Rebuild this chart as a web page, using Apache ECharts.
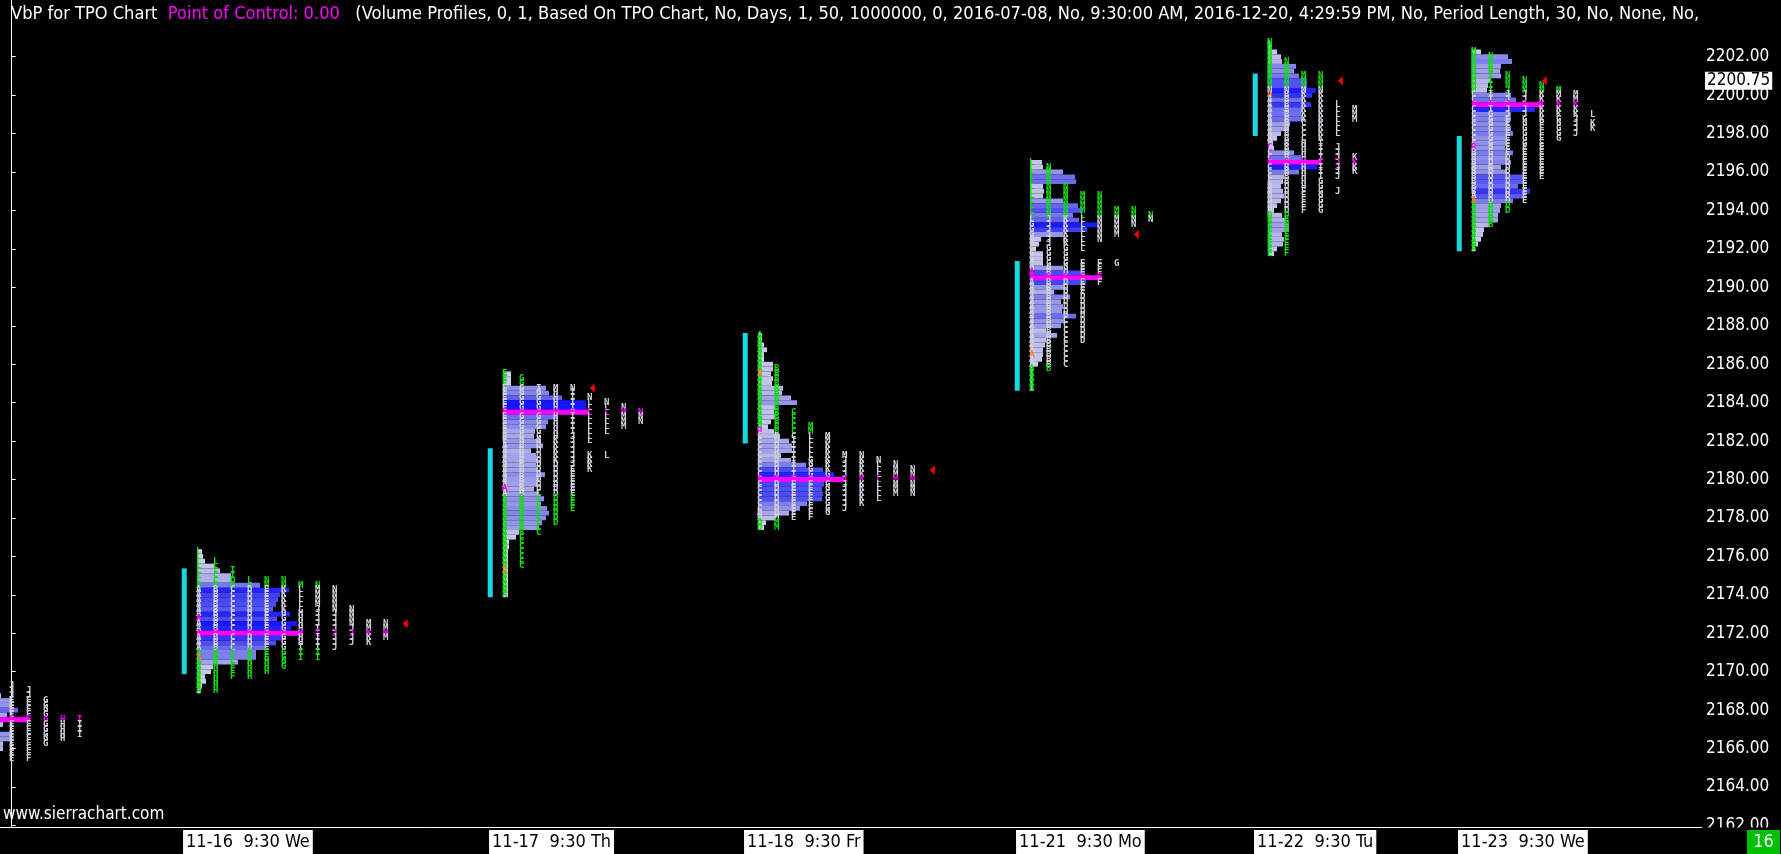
<!DOCTYPE html>
<html><head><meta charset="utf-8">
<script src="https://cdn.jsdelivr.net/npm/echarts@6/dist/echarts.min.js"></script>
<style>html,body{margin:0;padding:0;background:#000;overflow:hidden}#c{width:1781px;height:854px}</style>
</head><body><div id="c"></div>
<script>
// ---------------- DATA ----------------
const sessions      = ['11-15', '11-16', '11-17', '11-18', '11-21', '11-22', '11-23'];
const sessionLabels = ['', '11-16  9:30 We', '11-17  9:30 Th', '11-18  9:30 Fr', '11-21  9:30 Mo', '11-22  9:30 Tu', '11-23  9:30 We'];
// session start, counted in TPO columns along the time axis
const sessionColumn = [-1, 11, 29, 44, 60, 74, 86];
// price of the first (highest) volume-profile row of each session
const volTop   = [2169.5, 2176.25, 2185.5, 2187.5, 2196.5, 2202.75, 2202.25];
const pocPrice = [2167.5, 2172.0, 2183.5, 2180.0, 2190.5, 2196.5, 2199.5];
const vaLow    = [2165.25, 2171.25, 2179.25, 2178.0, 2186.0, 2194.0, 2194.5];
const vaHigh   = [2169.5, 2174.25, 2184.75, 2182.25, 2193.5, 2200.25, 2200.0];
const ibLow    = [null, 2170.0, 2174.0, 2182.0, 2184.75, 2198.0, 2192.0];
const ibHigh   = [null, 2175.25, 2181.5, 2187.5, 2191.25, 2201.0, 2197.75];
const closePrice = [null, 2172.5, 2184.75, 2180.5, 2192.75, 2200.75, 2200.75];
const openMark   = [null, ['A', 2172.75], ['A', 2179.5], ['B', 2182.5], ['A', 2190.75], ['C', 2197.25], ['B', 2197.25]];
const otherMark  = [null, ['A', 2170.75], ['A', 2175.25], ['A', 2185.5], ['A', 2186.5], ['A', 2200.0], ['A', 2194.5]];
const lastPrice = 2200.75;
const pocLabel = 'Point of Control: 0.00';
const priceTicks = [2162, 2164, 2166, 2168, 2170, 2172, 2174, 2176, 2178, 2180, 2182, 2184, 2186, 2188, 2190, 2192, 2194, 2196, 2198, 2200, 2202];

// volume per 0.25 row, from the session's top row downwards
const vol1115 = [4, 5, 6, 8, 17, 17, 25, 14, 37, 10, 6, 17, 17, 10, 10, 6, 6, 4];
const vol1116 = [5, 6, 8, 18, 23, 34, 34, 63, 92, 83, 81, 79, 76, 93, 80, 100, 94, 105, 86, 79, 68, 59, 59, 41, 16, 14, 8, 9, 5, 4];
const vol1117 = [8, 8, 8, 43, 46, 59, 83, 83, 86, 55, 45, 43, 32, 31, 38, 40, 28, 33, 34, 33, 34, 42, 36, 34, 31, 36, 41, 38, 44, 46, 43, 39, 36, 16, 13, 6, 6, 5, 5, 5, 5, 5, 5, 5, 5, 5, 5];
const vol1118 = [4, 4, 6, 9, 6, 6, 15, 15, 13, 15, 14, 25, 24, 33, 39, 17, 16, 17, 13, 10, 16, 22, 31, 34, 34, 23, 33, 48, 65, 76, 86, 66, 64, 65, 64, 49, 42, 31, 18, 8, 6];
const vol1121 = [12, 13, 33, 45, 46, 13, 14, 13, 33, 48, 53, 43, 49, 68, 57, 33, 11, 9, 6, 13, 13, 13, 33, 55, 72, 56, 34, 24, 40, 31, 33, 32, 46, 35, 31, 16, 27, 16, 15, 13, 13, 12, 8, 3, 3, 3, 3, 3];
const vol1122 = [2, 4, 9, 13, 14, 28, 26, 31, 39, 39, 48, 44, 34, 43, 34, 33, 34, 22, 21, 13, 9, 5, 6, 26, 33, 53, 49, 31, 16, 15, 13, 15, 16, 13, 9, 6, 14, 17, 21, 21, 14, 16, 15, 9, 6];
const vol1123 = [9, 36, 40, 29, 28, 29, 18, 16, 15, 39, 44, 71, 63, 39, 39, 36, 39, 41, 34, 34, 33, 41, 36, 39, 29, 34, 52, 51, 46, 58, 51, 41, 29, 28, 26, 26, 18, 12, 11, 9, 6, 3];

// TPO letter columns: [column, letter, low, high]
const tpo1115 = [[0,'A',2165.25,2169.5],[1,'J',2168.75,2169.25],[1,'E',2165.5,2168.5],[2,'J',2168.75,2169.0],[2,'F',2165.5,2168.5],
  [3,'G',2166.25,2168.5],[4,'H',2166.5,2167.5],[5,'I',2166.75,2167.5]];
const tpo1116 = [[0,'L',2174.75,2176.25],[0,'A',2169.0,2174.5],
  [1,'L',2175.25,2175.75],[1,'C',2174.75,2175.0],[1,'B',2170.5,2174.5],[1,'H',2169.0,2170.25],
  [2,'I',2175.0,2175.25],[2,'D',2174.5,2174.75],[2,'C',2170.5,2174.25],[2,'F',2169.75,2170.25],
  [3,'L',2174.5,2174.75],[3,'D',2170.75,2174.25],[3,'H',2169.75,2170.5],
  [4,'N',2174.5,2174.75],[4,'E',2170.75,2174.25],[4,'H',2170.0,2170.5],
  [5,'N',2174.5,2174.75],[5,'K',2173.25,2174.25],[5,'G',2170.25,2173.0],
  [6,'M',2174.5,2174.5],[6,'L',2173.25,2174.25],[6,'H',2171.5,2173.0],[6,'I',2170.75,2171.25],
  [7,'N',2174.5,2174.5],[7,'M',2173.5,2174.25],[7,'J',2172.5,2173.25],[7,'I',2170.75,2172.25],
  [8,'N',2173.25,2174.25],[8,'J',2171.25,2173.0],[9,'N',2172.5,2173.25],[9,'J',2171.5,2172.25],
  [10,'M',2172.25,2172.5],[10,'K',2171.5,2172.0],[11,'N',2172.5,2172.5],[11,'M',2171.75,2172.25]];
const tpo1117 = [[0,'E',2182.0,2185.5],[0,'A',2174.0,2181.75],
  [1,'G',2182.0,2185.25],[1,'B',2177.25,2181.75],[1,'C',2175.5,2177.0],
  [2,'I',2184.75,2184.75],[2,'G',2182.0,2184.5],[2,'D',2179.5,2181.75],[2,'C',2177.25,2179.25],
  [3,'M',2184.75,2184.75],[3,'H',2182.25,2184.5],[3,'K',2181.0,2182.0],[3,'D',2177.75,2180.75],
  [4,'N',2184.75,2184.75],[4,'I',2182.5,2184.5],[4,'J',2180.75,2182.25],[4,'E',2178.5,2180.5],
  [5,'N',2184.25,2184.25],[5,'L',2182.0,2184.0],[5,'K',2180.5,2181.25],
  [6,'N',2184.0,2184.0],[6,'L',2182.5,2183.75],[6,'L',2181.25,2181.25],
  [7,'N',2183.75,2183.75],[7,'M',2182.75,2183.5],[8,'N',2183.0,2183.5]];
const tpo1118 = [[0,'A',2182.75,2187.5],[0,'C',2178.5,2182.5],[0,'D',2177.5,2178.25],
  [1,'B',2182.5,2185.75],[1,'D',2178.25,2182.25],[1,'M',2177.5,2178.0],
  [2,'C',2182.25,2183.5],[2,'I',2180.25,2182.0],[2,'E',2178.0,2180.0],
  [3,'M',2182.5,2182.75],[3,'L',2181.25,2182.25],[3,'G',2180.25,2181.0],[3,'F',2178.0,2180.0],
  [4,'M',2182.0,2182.25],[4,'K',2180.5,2181.75],[4,'G',2178.25,2180.25],
  [5,'M',2181.25,2181.25],[5,'J',2178.5,2181.0],[6,'N',2181.25,2181.25],[6,'K',2178.75,2181.0],
  [7,'N',2181.0,2181.0],[7,'L',2179.0,2180.75],[8,'N',2180.75,2180.75],[8,'M',2179.25,2180.5],[9,'N',2179.25,2180.5]];
const tpo1121 = [[0,'L',2193.5,2196.5],[0,'G',2191.0,2193.25],[0,'A',2184.75,2190.75],
  [1,'N',2193.75,2196.25],[1,'J',2192.25,2193.5],[1,'G',2191.0,2192.0],[1,'B',2185.75,2190.75],
  [2,'N',2194.0,2195.25],[2,'K',2192.25,2193.75],[2,'G',2191.0,2192.0],[2,'D',2188.5,2190.75],[2,'C',2186.0,2188.25],
  [3,'M',2194.0,2194.75],[3,'L',2192.0,2193.75],[3,'E',2189.75,2191.25],[3,'D',2187.25,2189.5],
  [4,'N',2192.5,2194.75],[4,'F',2190.25,2191.25],
  [5,'M',2192.75,2194.0],[5,'G',2191.25,2191.25],[6,'N',2193.25,2194.0],[7,'N',2193.5,2193.75]];
const tpo1122 = [[0,'N',2200.25,2202.75],[0,'A',2197.75,2200.0],[0,'C',2195.5,2197.5],[0,'D',2193.75,2195.25],[0,'E',2191.75,2193.5],
  [1,'N',2200.25,2201.75],[1,'B',2195.5,2200.0],[1,'D',2193.75,2195.25],[1,'E',2192.75,2193.5],[1,'F',2191.75,2192.5],
  [2,'M',2200.25,2201.0],[2,'K',2198.75,2200.0],[2,'C',2197.75,2198.5],[2,'H',2195.25,2197.5],[2,'F',2194.0,2195.0],
  [3,'N',2200.25,2201.0],[3,'K',2197.75,2200.0],[3,'I',2195.75,2197.5],[3,'G',2194.0,2195.5],
  [4,'L',2198.0,2199.5],[4,'J',2195.75,2197.25],[4,'J',2195.0,2195.0],
  [5,'M',2198.75,2199.25],[5,'K',2196.0,2196.75]];
const tpo1123 = [[0,'M',2200.25,2202.25],[0,'C',2197.5,2200.0],[0,'B',2195.0,2197.25],[0,'A',2192.0,2194.75],
  [1,'N',2201.25,2202.0],[1,'I',2199.25,2201.0],[1,'G',2197.0,2199.0],[1,'D',2194.5,2196.75],[1,'B',2193.25,2194.25],
  [2,'N',2200.5,2201.0],[2,'J',2199.0,2200.25],[2,'E',2197.0,2198.75],[2,'D',2194.0,2196.75],
  [3,'N',2200.25,2200.75],[3,'J',2199.0,2200.0],[3,'G',2197.5,2198.75],[3,'E',2194.5,2197.25],
  [4,'N',2200.25,2200.5],[4,'K',2198.75,2200.0],[4,'F',2197.75,2198.5],[4,'E',2195.75,2197.5],
  [5,'M',2200.0,2200.25],[5,'K',2199.0,2199.75],[5,'G',2197.75,2198.75],
  [6,'M',2199.75,2200.0],[6,'K',2199.0,2199.5],[6,'J',2198.0,2198.75],[7,'L',2199.0,2199.0],[7,'K',2198.25,2198.5]];

const volumes = [vol1115, vol1116, vol1117, vol1118, vol1121, vol1122, vol1123];
const tpoCols = [tpo1115, tpo1116, tpo1117, tpo1118, tpo1121, tpo1122, tpo1123];

const headerA = 'VbP for TPO Chart';
const headerB = '(Volume Profiles, 0, 1, Based On TPO Chart, No, Days, 1, 50, 1000000, 0, 2016-07-08, No, 9:30:00 AM, 2016-12-20, 4:29:59 PM, No, Period Length, 30, No, None, No,';

// ---------------- BUILD ----------------
const FONT = '"DejaVu Sans Condensed","DejaVu Sans",sans-serif';
const ROW = 0.25, HALF = ROW / 2;
const VOL_PER_COL = 17;
const Y_MIN = 2161.92, Y_MAX = 2204.95, X_MIN = -0.688, X_MAX = 99.43;
const MAGENTA = '#ff00ff', GREEN = '#10e010', GRAY = '#d0d0d8';
const stops = [[0, [216, 216, 236]], [0.3, [178, 178, 234]], [0.5, [140, 140, 234]], [0.7, [94, 94, 242]], [0.85, [42, 42, 252]], [1, [16, 16, 255]]];
function volColor(t) {
  for (let i = 1; i < stops.length; i++) {
    if (t <= stops[i][0]) {
      const a = stops[i - 1], b = stops[i], f = (t - a[0]) / (b[0] - a[0]);
      const c = a[1].map((v, k) => Math.round(v + (b[1][k] - v) * f));
      return `rgb(${c[0]},${c[1]},${c[2]})`;
    }
  }
  return 'rgb(16,16,255)';
}
const eq = (a, b) => Math.abs(a - b) < 1e-6;

const barItems = [], barColors = [];
volumes.forEach((vols, i) => {
  const maxV = Math.max(...vols);
  const x0 = sessionColumn[i] - 0.1;
  vols.forEach((v, r) => {
    const price = volTop[i] - r * ROW;
    barItems.push([x0, x0 + v / VOL_PER_COL, price]);
    barColors.push(eq(price, pocPrice[i]) ? MAGENTA : volColor(v / maxV));
  });
});

const letterItems = [], letterMeta = [];
tpoCols.forEach((cols, i) => {
  cols.forEach(([c, letter, lo, hi]) => {
    for (let p = hi; p >= lo - 1e-9; p -= ROW) {
      let ch = letter, col;
      if (eq(p, pocPrice[i])) col = MAGENTA;
      else if (p >= vaLow[i] - 1e-9 && p <= vaHigh[i] + 1e-9) col = GRAY;
      else col = GREEN;
      if (c === 0 && openMark[i] && eq(p, openMark[i][1])) { ch = openMark[i][0]; col = MAGENTA; }
      if (c === 0 && otherMark[i] && eq(p, otherMark[i][1])) { ch = otherMark[i][0]; col = '#ff8020'; }
      letterItems.push([sessionColumn[i] + c, p]);
      letterMeta.push([ch, col]);
    }
  });
});

const ibItems = [], triItems = [], labelItems = [], labelTexts = [];
sessions.forEach((s, i) => {
  if (ibLow[i] != null) ibItems.push([sessionColumn[i] - 0.85, ibLow[i] - HALF, ibHigh[i] + HALF]);
  if (closePrice[i] != null) {
    const cols = new Set();
    tpoCols[i].forEach(([c, l, lo, hi]) => { if (closePrice[i] >= lo - 1e-9 && closePrice[i] <= hi + 1e-9) cols.add(c); });
    triItems.push([sessionColumn[i] + cols.size, closePrice[i]]);
  }
  if (sessionLabels[i]) { labelItems.push([sessionColumn[i] - 0.92, Y_MIN]); labelTexts.push(sessionLabels[i]); }
});

const chart = echarts.init(document.getElementById('c'), null, { renderer: 'canvas' });
chart.setOption({
  backgroundColor: '#000',
  animation: false,
  title: {
    left: 6, top: 0,
    text: `{w|${headerA}}  {m|${pocLabel}}   {w|${headerB}}`,
    textStyle: { color: '#fff', fontSize: 18.1, fontFamily: FONT, fontWeight: 'normal',
      rich: { w: { color: '#fff', fontSize: 18.1, fontFamily: FONT }, m: { color: MAGENTA, fontSize: 18.1, fontFamily: FONT } } }
  },
  grid: { left: 0, right: 79, top: 0, bottom: 27 },
  xAxis: { type: 'value', min: X_MIN, max: X_MAX, axisLine: { show: true, onZero: false, lineStyle: { color: '#fff', width: 1 } },
    axisTick: { show: false }, axisLabel: { show: false }, splitLine: { show: false } },
  yAxis: { type: 'value', position: 'right', min: Y_MIN, max: Y_MAX,
    axisLine: { show: true, lineStyle: { color: '#fff', width: 1 } },
    axisTick: { show: true, length: 4, lineStyle: { color: '#fff' }, customValues: priceTicks },
    axisLabel: { customValues: priceTicks, color: '#fff', fontSize: 17, fontFamily: FONT, margin: 4, formatter: v => v.toFixed(2) },
    splitLine: { show: false } },
  series: [
    { type: 'custom', name: 'volume', data: barItems, progressive: 0, z: 2,
      renderItem: (params, api) => {
        const p0 = api.coord([api.value(0), api.value(2) + HALF]);
        const p1 = api.coord([api.value(1), api.value(2) - HALF]);
        return { type: 'rect', shape: { x: p0[0], y: p0[1], width: p1[0] - p0[0], height: p1[1] - p0[1] },
          style: { fill: barColors[params.dataIndex] } };
      } },
    { type: 'custom', name: 'tpo', data: letterItems, progressive: 0, z: 3,
      renderItem: (params, api) => {
        const p = api.coord([api.value(0), api.value(1)]);
        const m = letterMeta[params.dataIndex];
        return { type: 'text', x: p[0], y: p[1],
          style: { text: m[0], fill: m[1], font: 'bold 9px "DejaVu Sans Mono",monospace', align: 'center', verticalAlign: 'middle' } };
      } },
    { type: 'custom', name: 'ib', data: ibItems, z: 4,
      renderItem: (params, api) => {
        const p0 = api.coord([api.value(0), api.value(2)]);
        const p1 = api.coord([api.value(0), api.value(1)]);
        return { type: 'rect', shape: { x: p0[0] - 2.5, y: p0[1], width: 5, height: p1[1] - p0[1] }, style: { fill: '#18d8e0' } };
      } },
    { type: 'custom', name: 'close', data: triItems, z: 5,
      renderItem: (params, api) => {
        const p = api.coord([api.value(0), api.value(1)]);
        return { type: 'polygon', shape: { points: [[p[0], p[1]], [p[0] + 5, p[1] - 4.5], [p[0] + 5, p[1] + 4.5]] }, style: { fill: '#ff0000' } };
      } },
    { type: 'custom', name: 'dates', data: labelItems, clip: false, z: 6,
      renderItem: (params, api) => {
        const p = api.coord([api.value(0), api.value(1)]);
        return { type: 'text', x: p[0], y: p[1] + 3,
          style: { text: labelTexts[params.dataIndex], fill: '#000', font: `18px ${FONT}`, backgroundColor: '#fff',
            padding: [3, 3, 2, 3], lineHeight: 19, verticalAlign: 'top', align: 'left' } };
      } },
    { type: 'custom', name: 'last', data: [[X_MAX, lastPrice]], clip: false, z: 7,
      renderItem: (params, api) => {
        const p = api.coord([api.value(0), api.value(1)]);
        return { type: 'text', x: p[0] + 3, y: p[1],
          style: { text: api.value(1).toFixed(2), fill: '#000', font: `17px ${FONT}`, backgroundColor: '#fff',
            padding: [1, 2, 0, 2], verticalAlign: 'middle', align: 'left' } };
      } }
  ],
  graphic: [
    { type: 'rect', z: 100, zlevel: 1, shape: { x: 1702.5, y: 827.5, width: 79, height: 27 }, style: { fill: '#000' } },
    { type: 'rect', z: 101, zlevel: 1, shape: { x: 1747, y: 830, width: 33, height: 24 }, style: { fill: '#00c000' } },
    { type: 'text', z: 102, zlevel: 1, x: 1763.5, y: 842, style: { text: '16', fill: '#fff', font: `18px ${FONT}`, align: 'center', verticalAlign: 'middle' } },
    { type: 'text', z: 102, x: 3, y: 815, style: { text: 'www.sierrachart.com', fill: '#fff', font: `17px ${FONT}`, align: 'left', verticalAlign: 'middle' } }
  ]
});
</script></body></html>
